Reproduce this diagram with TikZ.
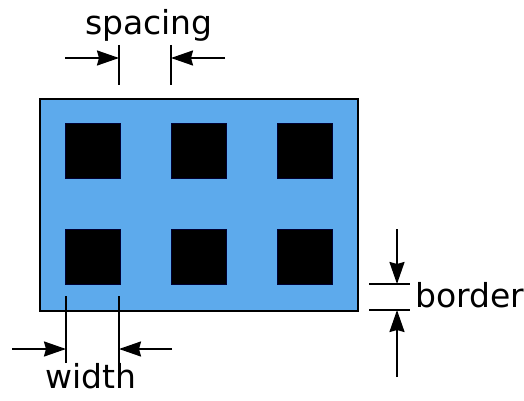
\documentclass[tikz,border=0pt]{standalone}
\usepackage{fontspec}
\setmainfont{DejaVu Sans}
\usetikzlibrary{arrows.meta}
\definecolor{plate}{RGB}{93,170,236}
\begin{document}
\begin{tikzpicture}[x=1pt,y=-1pt,
  hole/.style={fill=black,draw=black!80!blue,line width=0.5pt,minimum size=55pt,inner sep=0pt,anchor=north west},
  dimline/.style={line width=2pt},
  dimarrow/.style={line width=2pt,-{Stealth[length=22pt,width=15pt,inset=2pt]}},
  lbl/.style={font=\fontsize{33}{38}\selectfont,inner sep=0pt}]
\useasboundingbox (0,0) rectangle (524,401);
% plate
\node[draw=black,line width=2pt,fill=plate,minimum width=318pt,minimum height=212pt,inner sep=0pt,anchor=north west] (plate) at (39,98) {};
% holes
\node[hole] (h11) at (65,123) {};
\node[hole] (h12) at (171,123) {};
\node[hole] (h13) at (277,123) {};
\node[hole] (h21) at (65,229) {};
\node[hole] (h22) at (171,229) {};
\node[hole] (h23) at (277,229) {};
% spacing
\coordinate (sa) at (119,45); \coordinate (sb) at (119,85);
\coordinate (sc) at (171,45); \coordinate (sd) at (171,85);
\draw[dimline] (sa) -- (sb);
\draw[dimline] (sc) -- (sd);
\coordinate (sl) at (65,58); \coordinate (slt) at (119,58);
\coordinate (sr) at (225,58); \coordinate (srt) at (171,58);
\draw[dimarrow] (sl) -- (slt);
\draw[dimarrow] (sr) -- (srt);
\node[lbl,anchor=base] (spacing) at (149,35) {spacing};
% width
\coordinate (wa) at (66,296); \coordinate (wb) at (66,363);
\coordinate (wc) at (119,296); \coordinate (wd) at (119,363);
\draw[dimline] (wa) -- (wb);
\draw[dimline] (wc) -- (wd);
\coordinate (wl) at (12,349); \coordinate (wlt) at (66,349);
\coordinate (wr) at (172,349); \coordinate (wrt) at (119,349);
\draw[dimarrow] (wl) -- (wlt);
\draw[dimarrow] (wr) -- (wrt);
\node[lbl,anchor=base] (width) at (91,388) {width};
% border
\coordinate (ba) at (369,284); \coordinate (bb) at (410,284);
\coordinate (bc) at (369,310); \coordinate (bd) at (410,310);
\draw[dimline] (ba) -- (bb);
\draw[dimline] (bc) -- (bd);
\coordinate (bt) at (397,229); \coordinate (btt) at (397,284);
\coordinate (bu) at (397,377); \coordinate (but) at (397,310);
\draw[dimarrow] (bt) -- (btt);
\draw[dimarrow] (bu) -- (but);
\node[lbl,anchor=base west] (border) at (415,307) {border};
\end{tikzpicture}
\end{document}
